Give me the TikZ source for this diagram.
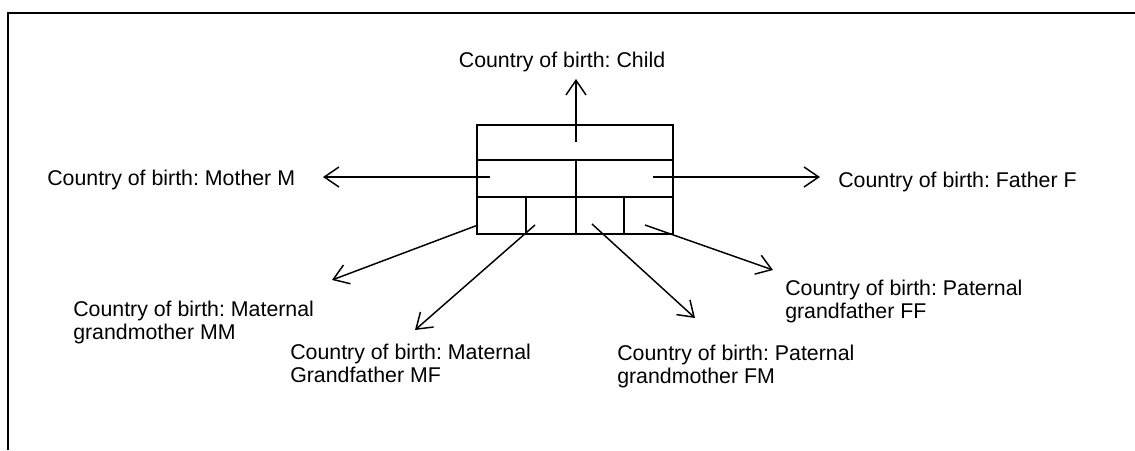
\documentclass[tikz,border=0pt]{standalone}
\usepackage{fontspec}
\setmainfont{Liberation Sans}
\frenchspacing
\usetikzlibrary{arrows.meta}
\tikzset{
	lbl/.style={inner sep=0pt, align=left, font=\fontsize{16}{17.25}\selectfont},
	pointer/.style={-{Straight Barb[length=11pt,width=15pt]}, line width=1.1pt},
	cell/.style={line width=1.5pt},
}
\begin{document}
\begin{tikzpicture}[x=0.75pt,y=-0.75pt]
	\useasboundingbox (0,0) rectangle (1135,450);
	\draw[line width=1.5pt] (8,450) -- (8,13) -- (1135,13);

	% the record
	\draw[cell] (477,125) rectangle (673,234);
	\draw[cell] (477,160) -- (673,160);
	\draw[cell] (477,197) -- (673,197);
	\draw[cell] (576,160) -- (576,234);
	\draw[cell] (526,197) -- (526,234);
	\draw[cell] (624,197) -- (624,234);

	\coordinate (c) at (576,142);
	\coordinate (m) at (490,177);
	\coordinate (f) at (653,177);
	\coordinate (mm) at (478,225);
	\coordinate (mf) at (535,225);
	\coordinate (fm) at (592,224);
	\coordinate (ff) at (645,225);

	\coordinate (cTip) at (576,79);
	\coordinate (mTip) at (323,177);
	\coordinate (fTip) at (820,177);
	\coordinate (mmTip) at (332,280);
	\coordinate (mfTip) at (415,330);
	\coordinate (fmTip) at (695,318);
	\coordinate (ffTip) at (773,270);

	\node[lbl, anchor=base] (child) at (562,67) {Country of birth: Child};
	\node[lbl, anchor=base west] (mother) at (47,185) {Country of birth: Mother M};
	\node[lbl, anchor=base west] (father) at (838,187) {Country of birth: Father F};
	\node[lbl, anchor=north west] (mgm) at (73,300.5) {Country of birth: Maternal\\grandmother MM};
	\node[lbl, anchor=north west] (mgf) at (290,343.5) {Country of birth: Maternal\\Grandfather MF};
	\node[lbl, anchor=north west] (pgm) at (617,344.5) {Country of birth: Paternal\\grandmother FM};
	\node[lbl, anchor=north west] (pgf) at (785,279.5) {Country of birth: Paternal\\grandfather FF};

	\draw[pointer] (c) -- (cTip);
	\draw[pointer] (m) -- (mTip);
	\draw[pointer] (f) -- (fTip);
	\draw[pointer] (mm) -- (mmTip);
	\draw[pointer] (mf) -- (mfTip);
	\draw[pointer] (fm) -- (fmTip);
	\draw[pointer] (ff) -- (ffTip);
\end{tikzpicture}
\end{document}
